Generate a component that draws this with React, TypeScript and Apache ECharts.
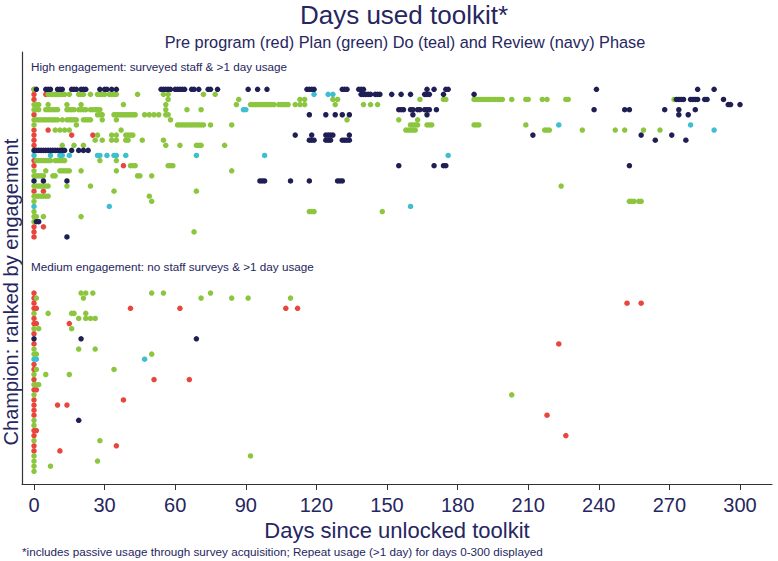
import React, { useEffect, useRef } from "react";
import * as echarts from "echarts";

// Tick labels on the x axis (days since unlocked toolkit)
const xTicks: number[] = [0, 30, 60, 90, 120, 150, 180, 210, 240, 270, 300];

// Each entry: [champion rank row, days on which toolkit was used]
// Rows 0-29: high engagement; rows 40-75: medium engagement
const preProgram: [number, number[]][] = [
  [0, [0]], [1, [0, 5]], [2, [0]], [5, [0]], [8, [0, 6]], [9, [0, 16, 25]],
  [10, [0]], [11, [0]], [14, [0]], [15, [0, 38]], [20, [0, 4]], [27, [0, 4]],
  [28, [0]], [29, [0]],
  [40, [0]], [41, [0]], [42, [0, 252, 258]], [43, [0, 1, 41, 62, 107, 112]],
  [45, [0]], [46, [0, 1, 15]], [48, [0]], [50, [0, 223]], [54, [0]], [55, [0]],
  [57, [0, 51, 66]], [59, [0, 1]], [61, [0, 38]], [62, [0, 10, 14]], [63, [0]],
  [64, [0, 218]], [67, [0, 1]], [68, [0, 226]], [70, [0, 35]], [71, [0, 11]],
];

const planPhase: [number, number[]][] = [
  [0, [0]],
  [1, [6, 7, 8, 9, 10, 11, 12, 13, 15, 19, 20, 21, 24, 27, 28, 29, 30, 32, 33, 34, 35, 44, 55, 57, 72, 77]],
  [2, [57, 87, 113, 115, 127, 129, 164, 174, 175, 187, 188, 189, 190, 191, 192, 193, 194, 195, 196, 197, 198, 199, 203, 209, 210, 216, 218, 226, 227, 272]],
  [3, [0, 1, 2, 6, 14, 20, 38, 56, 86, 92, 93, 94, 95, 96, 97, 98, 99, 100, 101, 102, 104, 105, 106, 107, 108, 111, 113, 115, 128, 140, 143, 146]],
  [4, [0, 1, 2, 5, 6, 7, 8, 9, 10, 14, 15, 16, 17, 19, 20, 21, 22, 24, 25, 26, 27, 28, 56, 65, 71]],
  [5, [27, 28, 29, 34, 35, 36, 37, 38, 39, 40, 41, 42, 43, 47, 49, 51, 53, 56, 57]],
  [6, [0, 1, 2, 3, 4, 5, 6, 7, 8, 9, 10, 12, 14, 15, 16, 17, 18, 21, 22, 23, 24, 29, 35, 58, 133, 155, 163]],
  [7, [0, 18, 61, 62, 63, 64, 65, 66, 67, 68, 69, 70, 71, 72, 75, 84, 160, 161, 162, 163, 167, 168, 169, 187, 188, 189, 209]],
  [8, [9, 11, 13, 15, 37, 158, 159, 160, 161, 162, 217, 218, 219, 233, 247, 251, 259, 266]],
  [9, [27, 33, 35, 39, 40, 41, 42]],
  [10, [26, 29, 33, 35, 39, 40, 46, 55]],
  [11, [12, 17, 21, 56, 62, 69, 70, 71, 81]],
  [14, [1, 2, 3, 4, 5, 6, 7, 9, 10, 11, 12, 13, 28, 35]],
  [15, [41, 42, 43, 57, 58, 59]],
  [16, [0, 5, 11, 12, 13, 14, 15, 20, 35, 84]],
  [17, [0, 1, 2, 3, 4, 8, 9, 44, 45, 50]],
  [19, [0, 1, 2, 3, 4, 5, 6, 14, 24, 224]],
  [20, [34, 69]],
  [21, [0, 1, 2, 3, 4, 5, 6, 49]],
  [22, [0, 50, 253, 254, 255, 257, 258]],
  [24, [0, 117, 118, 119, 148]],
  [25, [0, 1, 4, 20]],
  [26, [0]],
  [28, [68]],
  [40, [20, 22, 25, 50, 55, 75]],
  [41, [1, 21, 71, 84, 91, 109]],
  [44, [0, 6, 16, 17, 22]],
  [45, [19, 22, 24, 26]],
  [47, [0, 2, 16]],
  [51, [0, 19, 26]],
  [52, [0, 1, 50]],
  [55, [1, 34]],
  [56, [0, 5, 15]],
  [58, [0, 1, 2]],
  [60, [0, 203]],
  [65, [0]], [66, [0]], [69, [0, 28]], [72, [0, 92]], [73, [0, 27]], [74, [0, 7]], [75, [0]],
];

const doPhase: [number, number[]][] = [
  [1, [119, 125, 127]],
  [4, [89, 90]],
  [7, [223, 279]],
  [8, [289]],
  [13, [0, 7, 11, 12, 15, 27, 28, 31, 34, 35, 39, 69, 98, 176]],
  [23, [0, 32, 160]],
  [53, [0, 1, 47]],
];

const reviewPhase: [number, number[]][] = [
  [0, [1, 5, 6, 7, 10, 11, 12, 16, 17, 18, 20, 21, 22, 28, 30, 31, 33, 35, 54, 55, 56, 57, 58, 60, 61, 62, 63, 64, 67, 68, 70, 74, 75, 78, 91, 95, 99, 116, 117, 118, 119, 131, 132, 133, 138, 139, 140, 167, 170, 175, 176, 239, 282, 289]],
  [1, [139, 140, 141, 142, 143, 145, 146, 147, 152, 156, 160, 166, 167, 168, 174, 187]],
  [2, [273, 274, 275, 276, 279, 280, 281, 282, 285, 286, 293]],
  [3, [295, 296, 300]],
  [4, [155, 156, 157, 160, 161, 163, 164, 166, 167, 168, 171, 238, 251, 253, 268, 274, 281]],
  [5, [117, 124, 128, 131, 134, 161, 167, 274, 278]],
  [9, [111, 118, 124, 125, 126, 127, 134, 212, 258, 271]],
  [10, [117, 118, 119, 124, 125, 126, 131, 132, 133, 134, 264, 277]],
  [12, [0, 1, 2, 3, 4, 5, 6, 7, 8, 9, 10, 11, 12, 13, 16, 19, 21, 23]],
  [15, [155, 170, 174, 175, 253]],
  [18, [0, 4, 14, 96, 97, 98, 109, 117, 129, 130, 131]],
  [26, [1, 2]],
  [29, [14]],
  [49, [0, 20, 69]],
  [65, [19]],
];

const toPoints = (rows: [number, number[]][]) =>
  rows.flatMap(([row, days]) => days.map((d) => [d, row]));

const NAVY_TEXT = "#262660";
const FONT = "'Liberation Sans', Arial, sans-serif";

export default function App() {
  const ref = useRef<HTMLDivElement>(null);
  useEffect(() => {
    if (!ref.current) return;
    document.body.style.margin = "0";
    const chart = echarts.init(ref.current, undefined, { renderer: "svg" });
    const mk = (name: string, color: string, rows: [number, number[]][]) => ({
      name,
      type: "scatter",
      data: toPoints(rows),
      symbolSize: 5.5,
      itemStyle: { color, opacity: 1 },
      emphasis: { disabled: true },
    });
    chart.setOption({
      animation: false,
      backgroundColor: "#ffffff",
      textStyle: { fontFamily: FONT },
      grid: { left: 22, right: 6, top: 52, bottom: 77 },
      xAxis: {
        type: "value",
        min: -5.1,
        max: 313.6,
        name: "Days since unlocked toolkit",
        nameLocation: "middle",
        nameGap: 32,
        nameTextStyle: { fontSize: 22, color: NAVY_TEXT },
        axisLine: { show: true, onZero: false, lineStyle: { color: "#333", width: 1.2 } },
        axisTick: { show: true, length: 6, lineStyle: { color: "#333" }, customValues: xTicks },
        axisLabel: { fontSize: 20, color: NAVY_TEXT, margin: 11, customValues: xTicks },
        splitLine: { show: false },
      },
      yAxis: {
        type: "value",
        inverse: true,
        min: -7.32,
        max: 77.5,
        axisLine: { show: true, onZero: false, lineStyle: { color: "#333", width: 1.2 } },
        axisTick: { show: false },
        axisLabel: { show: false },
        splitLine: { show: false },
      },
      graphic: [
        {
          type: "text", x: 404, y: 15,
          style: { text: "Days used toolkit*", fontSize: 26, fill: NAVY_TEXT, textAlign: "center", textVerticalAlign: "middle", fontFamily: FONT },
        },
        {
          type: "text", x: 405, y: 42,
          style: { text: "Pre program (red) Plan (green) Do (teal) and Review (navy) Phase", fontSize: 16.3, fill: NAVY_TEXT, textAlign: "center", textVerticalAlign: "middle", fontFamily: FONT },
        },
        {
          type: "text", x: 31, y: 66,
          style: { text: "High engagement: surveyed staff & >1 day usage", fontSize: 11.7, fill: NAVY_TEXT, textAlign: "left", textVerticalAlign: "middle", fontFamily: FONT },
        },
        {
          type: "text", x: 31, y: 266,
          style: { text: "Medium engagement: no staff surveys & >1 day usage", fontSize: 11.7, fill: NAVY_TEXT, textAlign: "left", textVerticalAlign: "middle", fontFamily: FONT },
        },
        {
          type: "text", x: 11, y: 292, rotation: Math.PI / 2,
          style: { text: "Champion: ranked by engagement", fontSize: 20, fill: NAVY_TEXT, textAlign: "center", textVerticalAlign: "middle", fontFamily: FONT },
        },
        {
          type: "text", x: 22, y: 551,
          style: { text: "*includes passive usage through survey acquisition; Repeat usage (>1 day) for days 0-300 displayed", fontSize: 11.7, fill: NAVY_TEXT, textAlign: "left", textVerticalAlign: "middle", fontFamily: FONT },
        },
      ],
      series: [
        mk("Pre program", "#e8453c", preProgram),
        mk("Plan", "#8cc63f", planPhase),
        mk("Do", "#3dbfd0", doPhase),
        mk("Review", "#1f1f55", reviewPhase),
      ],
    });
    return () => chart.dispose();
  }, []);
  return <div ref={ref} style={{ width: 778, height: 561 }} />;
}
